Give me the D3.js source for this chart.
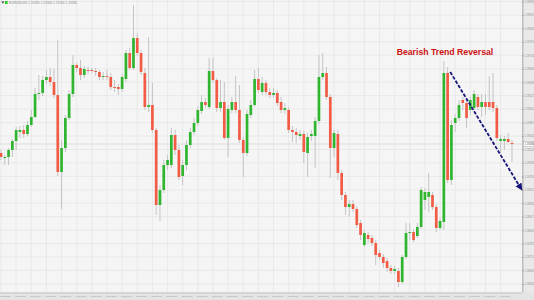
<!DOCTYPE html>
<html>
<head>
<meta charset="utf-8">
<script src="https://cdn.jsdelivr.net/npm/d3@7"></script>
<style>
  body { margin: 0; background: #fff; }
  svg { display: block; }
</style>
</head>
<body>
<div id="chart"></div>
<script>
// H1 candles (oldest first)
var opens = [1.19235,1.19210,1.19215,1.19250,1.19295,1.19340,1.19350,1.19330,1.19375,1.19415,
  1.19530,1.19535,1.19600,1.19615,1.19590,1.19525,1.19140,1.19260,1.19410,1.19530,
  1.19675,1.19660,1.19625,1.19650,1.19650,1.19645,1.19640,1.19615,1.19620,1.19615,
  1.19565,1.19565,1.19555,1.19605,1.19735,1.19660,1.19810,1.19735,1.19635,1.19465,
  1.19475,1.19350,1.18975,1.19050,1.19175,1.19175,1.19325,1.19250,1.19120,1.19175,
  1.19275,1.19340,1.19385,1.19445,1.19490,1.19465,1.19645,1.19600,1.19460,1.19490,
  1.19310,1.19450,1.19490,1.19450,1.19300,1.19235,1.19425,1.19475,1.19605,1.19540,
  1.19585,1.19540,1.19525,1.19535,1.19490,1.19450,1.19450,1.19350,1.19340,1.19320,
  1.19330,1.19235,1.19320,1.19320,1.19395,1.19615,1.19635,1.19515,1.19260,1.19330,
  1.19135,1.19025,1.18965,1.18980,1.18955,1.18885,1.18775,1.18825,1.18810,1.18785,
  1.18735,1.18715,1.18695,1.18660,1.18645,1.18645,1.18590,1.18715,1.18835,1.18840,
  1.18820,1.18865,1.19000,1.19015,1.19025,1.18965,1.18860,1.18890,1.19635,1.19100,
  1.19385,1.19410,1.19500,1.19485,1.19450,1.19460,1.19515,1.19465,1.19490,1.19490,
  1.19490,1.19460,1.19295,1.19295,1.19305,1.19285];
var highs = [1.19250,1.19225,1.19260,1.19305,1.19365,1.19370,1.19375,1.19395,1.19450,1.19560,
  1.19625,1.19620,1.19650,1.19660,1.19655,1.19800,1.19300,1.19425,1.19550,1.19725,
  1.19685,1.19700,1.19670,1.19665,1.19660,1.19660,1.19650,1.19640,1.19650,1.19635,
  1.19600,1.19580,1.19630,1.19750,1.19760,1.19975,1.19835,1.19750,1.19660,1.19815,
  1.19585,1.19360,1.19075,1.19200,1.19225,1.19360,1.19350,1.19275,1.19200,1.19300,
  1.19360,1.19410,1.19470,1.19525,1.19510,1.19710,1.19710,1.19610,1.19600,1.19590,
  1.19475,1.19515,1.19620,1.19575,1.19315,1.19450,1.19500,1.19650,1.19660,1.19615,
  1.19600,1.19560,1.19560,1.19550,1.19515,1.19485,1.19465,1.19370,1.19360,1.19350,
  1.19345,1.19335,1.19350,1.19415,1.19725,1.19735,1.19665,1.19530,1.19350,1.19350,
  1.19150,1.19040,1.19000,1.19000,1.18970,1.18900,1.18850,1.18840,1.18825,1.18800,
  1.18750,1.18730,1.18710,1.18675,1.18670,1.18660,1.18725,1.18885,1.18885,1.18855,
  1.18885,1.19065,1.19060,1.19135,1.19040,1.18980,1.18910,1.19695,1.19665,1.19400,
  1.19430,1.19500,1.19515,1.19500,1.19515,1.19550,1.19530,1.19530,1.19530,1.19620,
  1.19635,1.19475,1.19325,1.19320,1.19335,1.19300];
var lows = [1.19200,1.19175,1.19175,1.19215,1.19250,1.19310,1.19310,1.19320,1.19365,1.19410,
  1.19500,1.19520,1.19580,1.19570,1.19510,1.19120,1.18955,1.19240,1.19400,1.19515,
  1.19640,1.19600,1.19610,1.19630,1.19635,1.19620,1.19600,1.19600,1.19600,1.19550,
  1.19540,1.19525,1.19540,1.19590,1.19650,1.19650,1.19720,1.19625,1.19450,1.19440,
  1.19335,1.18925,1.18895,1.19035,1.19150,1.19160,1.19225,1.19100,1.19075,1.19150,
  1.19260,1.19325,1.19370,1.19430,1.19460,1.19455,1.19585,1.19440,1.19440,1.19300,
  1.19215,1.19435,1.19435,1.19285,1.19115,1.19220,1.19410,1.19465,1.19535,1.19525,
  1.19525,1.19510,1.19510,1.19470,1.19435,1.19430,1.19335,1.19290,1.19285,1.19300,
  1.19185,1.19115,1.19295,1.19160,1.19380,1.19600,1.19500,1.19110,1.19215,1.19100,
  1.19000,1.18925,1.18915,1.18940,1.18860,1.18800,1.18765,1.18785,1.18770,1.18675,
  1.18700,1.18660,1.18640,1.18630,1.18630,1.18565,1.18580,1.18705,1.18800,1.18790,
  1.18810,1.18855,1.18950,1.18940,1.18950,1.18840,1.18850,1.18850,1.19085,1.19075,
  1.19340,1.19395,1.19450,1.19360,1.19425,1.19450,1.19450,1.19415,1.19425,1.19450,
  1.19440,1.19295,1.19235,1.19250,1.19285,1.19190];
var closes = [1.19215,1.19215,1.19250,1.19295,1.19350,1.19350,1.19330,1.19375,1.19415,1.19530,
  1.19535,1.19600,1.19615,1.19590,1.19525,1.19140,1.19260,1.19410,1.19530,1.19675,
  1.19660,1.19625,1.19655,1.19645,1.19645,1.19640,1.19615,1.19620,1.19615,1.19565,
  1.19560,1.19555,1.19615,1.19735,1.19660,1.19810,1.19735,1.19640,1.19465,1.19475,
  1.19350,1.18975,1.19050,1.19175,1.19200,1.19325,1.19250,1.19115,1.19175,1.19275,
  1.19340,1.19385,1.19450,1.19490,1.19475,1.19645,1.19600,1.19460,1.19490,1.19310,
  1.19455,1.19490,1.19450,1.19300,1.19235,1.19430,1.19475,1.19605,1.19550,1.19585,
  1.19540,1.19525,1.19535,1.19485,1.19450,1.19460,1.19350,1.19340,1.19325,1.19330,
  1.19240,1.19315,1.19330,1.19395,1.19615,1.19635,1.19515,1.19260,1.19335,1.19135,
  1.19025,1.18965,1.18980,1.18955,1.18875,1.18825,1.18835,1.18805,1.18785,1.18725,
  1.18715,1.18685,1.18660,1.18645,1.18655,1.18590,1.18715,1.18835,1.18840,1.18800,
  1.18865,1.19050,1.19040,1.19040,1.18965,1.18860,1.18895,1.19635,1.19100,1.19375,
  1.19410,1.19475,1.19485,1.19410,1.19500,1.19530,1.19465,1.19490,1.19465,1.19465,
  1.19460,1.19310,1.19305,1.19305,1.19290,1.19280];

// one time label every 4 bars
var timeLabels = ["10 Mar 2021","10 Mar 13:00","10 Mar 17:00","10 Mar 21:00","11 Mar 01:00","11 Mar 05:00",
  "11 Mar 09:00","11 Mar 13:00","11 Mar 17:00","11 Mar 21:00","12 Mar 01:00","12 Mar 05:00",
  "12 Mar 09:00","12 Mar 13:00","12 Mar 17:00","12 Mar 21:00","15 Mar 01:00","15 Mar 05:00",
  "15 Mar 09:00","15 Mar 13:00","15 Mar 17:00","15 Mar 21:00","16 Mar 01:00","16 Mar 05:00",
  "16 Mar 09:00","16 Mar 13:00","16 Mar 17:00","16 Mar 21:00","17 Mar 01:00","17 Mar 05:00",
  "17 Mar 09:00","17 Mar 13:00","17 Mar 17:00","17 Mar 21:00"];
var priceTicks = [1.19993,1.19925,1.19858,1.19791,1.19724,1.19656,1.19589,1.19522,1.19455,1.19387,
  1.19320,1.19253,1.19186,1.19118,1.19051,1.18984,1.18917,1.18849,1.18782,1.18715,1.18648,1.18580];

var title = "EURUSD,H1  1.19285 1.19300 1.19190 1.19280";
var note = "Bearish Trend Reversal";
var notePos = [117.3, 1.19725];
var arrowFrom = [118.7, 1.19640];
var arrowTo = [137.6, 1.19050];

var width = 534, height = 300;
var plotRight = 522, plotBottom = 292.5;
var upColor = "#2fb52f", downColor = "#f25c45";

var svg = d3.select("#chart").append("svg")
            .attr("width", width)
            .attr("height", height);

var x = d3.scaleLinear().domain([0, opens.length - 1]).range([1, 1 + 3.785 * (opens.length - 1)]);
var y = d3.scaleLinear().domain([1.18540, 1.20000]).range([292, 0]);

// background
svg.append("rect").attr("width", plotRight).attr("height", plotBottom).attr("fill", "#f5f5f5");

// grid
svg.append("g").selectAll("line").data(priceTicks).enter().append("line")
   .attr("x1", 0).attr("x2", plotRight)
   .attr("y1", d => y(d)).attr("y2", d => y(d))
   .attr("stroke", "#e6e6e6").attr("stroke-width", 0.8);
svg.append("g").selectAll("line").data(timeLabels).enter().append("line")
   .attr("x1", (d, i) => x(i * 4)).attr("x2", (d, i) => x(i * 4))
   .attr("y1", 0).attr("y2", plotBottom)
   .attr("stroke", "#e6e6e6").attr("stroke-width", 0.8);

// last price line
svg.append("line")
   .attr("x1", 0).attr("x2", plotRight)
   .attr("y1", y(closes[closes.length - 1])).attr("y2", y(closes[closes.length - 1]))
   .attr("stroke", "#d6d6d6").attr("stroke-width", 0.8);

// candles
var candles = svg.append("g").selectAll("g").data(opens).enter().append("g");
candles.append("line")
   .attr("x1", (d, i) => x(i)).attr("x2", (d, i) => x(i))
   .attr("y1", (d, i) => y(highs[i])).attr("y2", (d, i) => y(lows[i]))
   .attr("stroke", "#c4c4c4").attr("stroke-width", 1);
candles.append("rect")
   .attr("x", (d, i) => x(i) - 1.35)
   .attr("width", 2.7)
   .attr("y", (d, i) => y(Math.max(d, closes[i])))
   .attr("height", (d, i) => Math.max(0.8, Math.abs(y(d) - y(closes[i]))))
   .attr("fill", (d, i) => closes[i] >= d ? upColor : downColor);

// right price axis
var right = svg.append("g").attr("transform", `translate(${plotRight},0)`);
right.append("rect").attr("width", width - plotRight).attr("height", height).attr("fill", "#e9e9e9");
right.append("rect").attr("width", 1.5).attr("height", plotBottom).attr("fill", "#bdbdbd");
var yAxis = d3.axisRight(y).tickValues(priceTicks).tickSize(1.5).tickFormat(d3.format(".5f"));
right.append("g").call(yAxis)
   .call(g => g.select(".domain").remove())
   .call(g => g.selectAll("line").attr("stroke", "#9a9a9a"))
   .call(g => g.selectAll("text").attr("x", 2.5).attr("fill", "#8a8a8a")
                .attr("font-size", 2.6).attr("font-family", "Liberation Sans, Arial, sans-serif"));
// last price tag
var lp = closes[closes.length - 1];
right.append("rect").attr("x", 1.5).attr("y", y(lp) - 2.6).attr("width", 10.5).attr("height", 5.2)
   .attr("fill", "#ffffff").attr("stroke", "#9a9a9a").attr("stroke-width", 0.4);
right.append("text").attr("x", 2.5).attr("y", y(lp) + 1)
   .attr("font-size", 2.7).attr("font-family", "Liberation Sans, Arial, sans-serif")
   .attr("fill", "#444").text(d3.format(".5f")(lp));

// bottom time axis
var bottom = svg.append("g").attr("transform", `translate(0,${plotBottom})`);
bottom.append("rect").attr("width", width).attr("height", height - plotBottom).attr("fill", "#e4e4e4");
bottom.append("rect").attr("width", plotRight).attr("height", 1).attr("fill", "#c2c2c2");
bottom.selectAll("text").data(timeLabels).enter().append("text")
   .attr("x", (d, i) => x(i * 4) - 1)
   .attr("y", 4.8)
   .attr("font-size", 2.4)
   .attr("font-family", "Liberation Sans, Arial, sans-serif")
   .attr("textLength", 10.5).attr("lengthAdjust", "spacingAndGlyphs")
   .attr("fill", "#8a8a8a")
   .text(d => d);

// chart title
svg.append("path").attr("d", "M1.5,1.6 L4.3,1.6 L2.9,3.8 Z").attr("fill", "#333");
svg.append("rect").attr("x", 5).attr("y", 1).attr("width", 2.6).attr("height", 3).attr("fill", "#22d022");
svg.append("text").attr("x", 9).attr("y", 3.9)
   .attr("font-size", 3.2).attr("font-family", "Liberation Sans, Arial, sans-serif")
   .attr("fill", "#8a8a8a").text(title);

// annotation
svg.append("text")
   .attr("x", x(notePos[0])).attr("y", y(notePos[1]))
   .attr("text-anchor", "middle")
   .attr("font-size", 8.7).attr("font-weight", "bold")
   .attr("font-family", "Liberation Sans, Arial, sans-serif")
   .attr("fill", "#cc1111")
   .text(note);

svg.append("defs").append("marker")
   .attr("id", "head").attr("viewBox", "0 0 10 10")
   .attr("refX", 9).attr("refY", 5)
   .attr("markerWidth", 4).attr("markerHeight", 4)
   .attr("markerUnits", "strokeWidth")
   .attr("orient", "auto")
   .append("path").attr("d", "M0,0 L10,5 L0,10 Z").attr("fill", "#14147a");

svg.append("line")
   .attr("x1", x(arrowFrom[0])).attr("y1", y(arrowFrom[1]))
   .attr("x2", x(arrowTo[0])).attr("y2", y(arrowTo[1]))
   .attr("stroke", "#14147a").attr("stroke-width", 1.8)
   .attr("stroke-dasharray", "3.5,1.6")
   .attr("marker-end", "url(#head)");
</script>
</body>
</html>
